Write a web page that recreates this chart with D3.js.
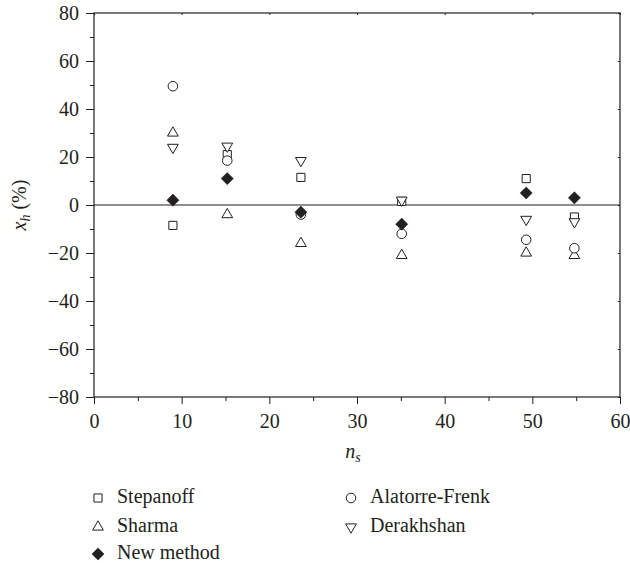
<!DOCTYPE html>
<html>
<head>
<meta charset="utf-8">
<script src="https://cdn.jsdelivr.net/npm/d3@7"></script>
</head>
<body style="margin:0">
<script>
// --------------- Data ---------------
const NS = [9, 15.2, 23.6, 35.1, 49.3, 54.8];
const STEPANOFF = [-8.5, 21, 11.5, 1.5, 11, -5];
const SHARMA = [30, -4, -16, -21, -20, -21];
const NEW_METHOD = [2, 11, -3, -8, 5, 3];
const ALATORRE = [49.5, 18.5, -4, -12, -14.5, -18];
const DERAKHSHAN = [24, 24.5, 18.5, 2, -6, -7];

const X_TICKS = [0, 10, 20, 30, 40, 50, 60];
const Y_TICKS = [-80, -60, -40, -20, 0, 20, 40, 60, 80];

const series = [
  { name: "Stepanoff", values: STEPANOFF, shape: "square" },
  { name: "Sharma", values: SHARMA, shape: "up" },
  { name: "New method", values: NEW_METHOD, shape: "diamond" },
  { name: "Alatorre-Frenk", values: ALATORRE, shape: "circle" },
  { name: "Derakhshan", values: DERAKHSHAN, shape: "down" },
];

// --------------- Constants ---------------
const WIDTH = 630;
const HEIGHT = 563;
const M = { left: 94, right: 10, top: 13, bottom: 166 };
const INK = "#231f20";
const FONT = '"Liberation Serif", "Times New Roman", serif';
const FONT_SIZE = 20;

const svg = d3.select("body").append("svg")
  .attr("width", WIDTH)
  .attr("height", HEIGHT);

const x = d3.scaleLinear().domain([0, 60]).range([M.left, WIDTH - M.right]);
const y = d3.scaleLinear().domain([-80, 80]).range([HEIGHT - M.bottom, M.top]);

// every text goes through this
function serif(sel, size = FONT_SIZE) {
  sel.attr("font-size", size)
    .attr("fill", INK)
    .style("font-family", FONT);
}

// symbol path for each shape
function symbolPath(shape) {
  switch (shape) {
    case "square": return d3.symbol(d3.symbolSquare, 66)();
    case "circle": return d3.symbol(d3.symbolCircle, 72)();
    case "up": return d3.symbol(d3.symbolTriangle, 50)();
    case "down": return d3.symbol(d3.symbolTriangle, 50)();
    case "diamond": return d3.symbol(d3.symbolSquare, 74)();
  }
}
function symbolRotate(shape) {
  if (shape === "down") return 180;
  if (shape === "diamond") return 45;
  return 0;
}
function drawSymbol(sel, shape) {
  sel.attr("d", symbolPath(shape))
    .attr("fill", shape === "diamond" ? INK : "#fff")
    .attr("stroke", INK)
    .attr("stroke-width", shape === "diamond" ? 0.5 : 1);
}

// --------------- Axes ---------------
const xAxis = d3.axisBottom(x).tickValues(X_TICKS).tickSize(7).tickPadding(10);
const xMinor = d3.axisBottom(x).tickValues(d3.range(5, 60, 10)).tickSize(4).tickFormat("");
const yAxis = d3.axisLeft(y).tickValues(Y_TICKS).tickSize(8).tickPadding(7)
  .tickFormat((d) => (d < 0 ? "\u2212" + Math.abs(d) : d));
const yMinor = d3.axisLeft(y).tickValues(d3.range(-70, 80, 20)).tickSize(4).tickFormat("");

function styleAxis(g) {
  g.attr("font-family", null).attr("font-size", null);
  g.select(".domain").remove();
  g.selectAll("line").attr("stroke", INK).attr("stroke-width", 1);
  g.selectAll("text").call(serif);
}

svg.append("g").attr("transform", `translate(0,${y(-80)})`).call(xAxis).call(styleAxis);
svg.append("g").attr("transform", `translate(0,${y(-80)})`).call(xMinor).call(styleAxis);
svg.append("g").attr("transform", `translate(${x(0)},0)`).call(yAxis).call(styleAxis);
svg.append("g").attr("transform", `translate(${x(0)},0)`).call(yMinor).call(styleAxis);

// small inward ticks on the top and right
const topTicks = d3.axisBottom(x).tickValues(X_TICKS).tickSize(2).tickFormat("");
const rightTicks = d3.axisRight(y).tickValues(Y_TICKS).tickSize(-2).tickFormat("");
svg.append("g").attr("transform", `translate(0,${y(80)})`).call(topTicks).call(styleAxis);
svg.append("g").attr("transform", `translate(${x(60)},0)`).call(rightTicks).call(styleAxis);

// frame
svg.append("rect")
  .attr("x", x(0)).attr("y", y(80))
  .attr("width", x(60) - x(0)).attr("height", y(-80) - y(80))
  .attr("fill", "none").attr("stroke", INK).attr("stroke-width", 1.2);

// zero line
svg.append("line")
  .attr("x1", x(0)).attr("x2", x(60))
  .attr("y1", y(0)).attr("y2", y(0))
  .attr("stroke", INK).attr("stroke-width", 1.2);

// axis labels
const yl = svg.append("text")
  .attr("transform", `translate(26,${y(0)}) rotate(-90)`)
  .attr("text-anchor", "middle")
  .call(serif);
yl.append("tspan").attr("font-style", "italic").text("x");
yl.append("tspan").attr("font-style", "italic").attr("font-size", 14).attr("dy", 4).text("h");
yl.append("tspan").attr("dy", -4).text(" (%)");

const xl = svg.append("text")
  .attr("x", x(30) - 4).attr("y", 458)
  .attr("text-anchor", "middle")
  .call(serif);
xl.append("tspan").attr("font-style", "italic").text("n");
xl.append("tspan").attr("font-style", "italic").attr("font-size", 14).attr("dy", 4).text("s");

// --------------- Points ---------------
const drawOrder = [series[0], series[1], series[3], series[4], series[2]];
drawOrder.forEach((s) => {
  svg.append("g").selectAll("path")
    .data(s.values.map((v, i) => [NS[i], v]))
    .enter()
    .append("path")
    .attr("transform", (d) => `translate(${x(d[0])},${y(d[1])}) rotate(${symbolRotate(s.shape)})`)
    .call(drawSymbol, s.shape);
});

// --------------- Legend ---------------
const LEGEND_COLS = [98, 351];
const LEGEND_ROWS = [503, 532, 559];
const legend = svg.append("g");
series.forEach((s, i) => {
  const lx = LEGEND_COLS[i < 3 ? 0 : 1];
  const ly = LEGEND_ROWS[i < 3 ? i : i - 3];
  legend.append("path")
    .attr("transform", `translate(${lx},${ly - 5}) rotate(${symbolRotate(s.shape)})`)
    .call(drawSymbol, s.shape);
  legend.append("text")
    .attr("x", lx + 19).attr("y", ly)
    .call(serif)
    .text(s.name);
});
</script>
</body>
</html>
